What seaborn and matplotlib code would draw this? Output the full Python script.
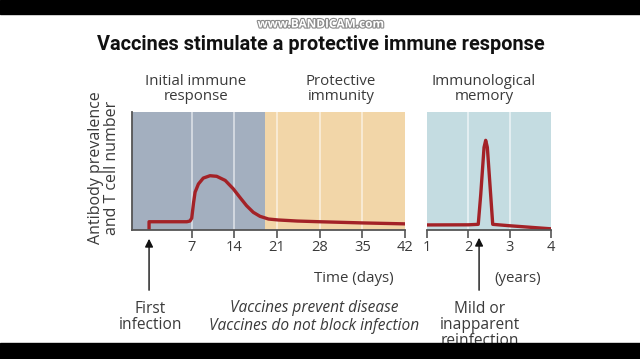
import matplotlib
matplotlib.use("Agg")
import matplotlib.pyplot as plt
import matplotlib.patheffects as pe
from matplotlib.patches import Rectangle
import seaborn as sns
import pandas as pd

# data
days = [0, 0, 3, 6.2, 6.7, 7.0, 7.3, 7.55, 8.1, 8.9, 10.0, 11.1, 12.5, 13.8,
        14.9, 16.0, 17.1, 18.2, 19.6, 21.2, 24.3, 28, 35, 42]
level_days = [0.5, 7, 7, 7, 7.6, 10, 23, 32, 39, 44, 46, 45.5, 42, 35,
              27.7, 20.6, 15, 11.6, 9.3, 8.5, 7.6, 7.0, 6.0, 5.2]
years = [1, 2.0, 2.24, 2.30, 2.38, 2.42, 2.46, 2.54, 2.59, 3, 4]
level_years = [4.3, 4.4, 4.8, 30, 70, 76, 70, 30, 4.8, 3.6, 1.0]

day_ticks = [7, 14, 21, 28, 35, 42]
year_ticks = [1, 2, 3, 4]
phases = ["Initial immune\nresponse", "Protective\nimmunity", "Immunological\nmemory"]

W, H = 640, 359
BLUE = "#a3afbf"
ORANGE = "#f2d6a8"
LIGHTBLUE = "#c4dce1"
RED = "#a32227"
GRAY = "#555555"
TXT = "#3a3a3a"

sns.set_theme(style="white")
plt.rcParams["font.family"] = ["Open Sans", "DejaVu Sans"]

fig = plt.figure(figsize=(W / 100, H / 100), dpi=100)
fig.patch.set_facecolor("white")


def fx(px):
    return px / W


def fy(py):
    return 1 - py / H


ax1 = fig.add_axes([fx(132), fy(230), fx(405) - fx(132), fy(112) - fy(230)])
ax2 = fig.add_axes([fx(427), fy(230), fx(551) - fx(427), fy(112) - fy(230)])

# left panel backgrounds
ax1.axvspan(-2.8, 19.0, color=BLUE, lw=0)
ax1.axvspan(19.0, 42, color=ORANGE, lw=0)
for d in [7, 14, 21, 28, 35]:
    ax1.axvline(d, color="white", lw=1.1, alpha=0.65)

df1 = pd.DataFrame({"day": days, "level": level_days})
sns.lineplot(data=df1, x="day", y="level", ax=ax1, color=RED, lw=2.4,
             sort=False, estimator=None, solid_joinstyle="round")
ax1.set_xlim(-2.8, 42)
ax1.set_ylim(0, 100)
ax1.set_xticks(day_ticks)
ax1.set_yticks([])

# right panel
ax2.set_facecolor(LIGHTBLUE)
for y in [2, 3]:
    ax2.axvline(y, color="white", lw=1.1, alpha=0.7)
df2 = pd.DataFrame({"year": years, "level": level_years})
sns.lineplot(data=df2, x="year", y="level", ax=ax2, color=RED, lw=2.4,
             sort=False, estimator=None, solid_joinstyle="round")
ax2.set_xlim(1, 4)
ax2.set_ylim(0, 100)
ax2.set_xticks(year_ticks)
ax2.set_yticks([])

for ax in (ax1, ax2):
    ax.set_xlabel("")
    ax.set_ylabel("")
    for s in ["top", "right"]:
        ax.spines[s].set_visible(False)
    ax.spines["bottom"].set_color(GRAY)
    ax.spines["bottom"].set_linewidth(1.3)
    ax.tick_params(axis="x", direction="out", length=5.5, width=1.2, color=GRAY,
                   labelsize=10.5, labelcolor=TXT, pad=2, bottom=True)
ax1.spines["left"].set_color(GRAY)
ax1.spines["left"].set_linewidth(1.3)
ax2.spines["left"].set_visible(False)

# phase headers
fig.text(fx(196), fy(89), phases[0], ha="center", va="center", fontsize=10.8,
         color=TXT, linespacing=1.0)
fig.text(fx(341), fy(89), phases[1], ha="center", va="center", fontsize=10.8,
         color=TXT, linespacing=1.0)
fig.text(fx(484), fy(89), phases[2], ha="center", va="center", fontsize=10.8,
         color=TXT, linespacing=1.0)

# y label
fig.text(fx(104), fy(168), "Antibody prevalence\nand T cell number", rotation=90,
         ha="center", va="center", fontsize=11.5, color=TXT, linespacing=1.0)

# axis titles
fig.text(fx(354), fy(279), "Time (days)", ha="center", va="center", fontsize=10.8, color=TXT)
fig.text(fx(518), fy(278), "(years)", ha="center", va="center", fontsize=10.8, color=TXT)

# arrows
arrow = dict(arrowstyle="-|>", color="#111111", lw=1.0, mutation_scale=12)
ax1.annotate("", xy=(0, -6 / 118), xytext=(0, -63 / 118),
             xycoords=ax1.get_xaxis_transform(), textcoords=ax1.get_xaxis_transform(),
             arrowprops=arrow)
ax2.annotate("", xy=(2.26, -5 / 118), xytext=(2.26, -63 / 118),
             xycoords=ax2.get_xaxis_transform(), textcoords=ax2.get_xaxis_transform(),
             arrowprops=arrow)

# bottom notes
fig.text(fx(150), fy(317), "First\ninfection", ha="center", va="center",
         fontsize=11.2, color=TXT, linespacing=1.0)
fig.text(fx(314), fy(308), "Vaccines prevent disease", ha="center", va="center",
         fontsize=11.2, color=TXT, style="italic")
fig.text(fx(314), fy(326), "Vaccines do not block infection", ha="center", va="center",
         fontsize=11.2, color=TXT, style="italic")
fig.text(fx(480), fy(325), "Mild or\ninapparent\nreinfection", ha="center", va="center",
         fontsize=11.2, color=TXT, linespacing=1.0)

# title and watermark
fig.text(fx(321), fy(45), "Vaccines stimulate a protective immune response",
         ha="center", va="center", fontsize=14.3, fontweight="bold", color="#111111",
         family=["Roboto", "DejaVu Sans"])
wm = fig.text(fx(320), fy(24), "www.BANDICAM.com", ha="center", va="center",
              fontsize=8.5, fontweight="bold", color="white")
wm.set_path_effects([pe.withStroke(linewidth=1.6, foreground="#8a8a8a")])

# recording bars
fig.add_artist(Rectangle((0, fy(14)), 1, 1 - fy(14), transform=fig.transFigure,
                         color="black", zorder=10))
fig.add_artist(Rectangle((0, 0), 1, fy(343), transform=fig.transFigure,
                         color="black", zorder=10))

fig.savefig("out.png", dpi=100)
